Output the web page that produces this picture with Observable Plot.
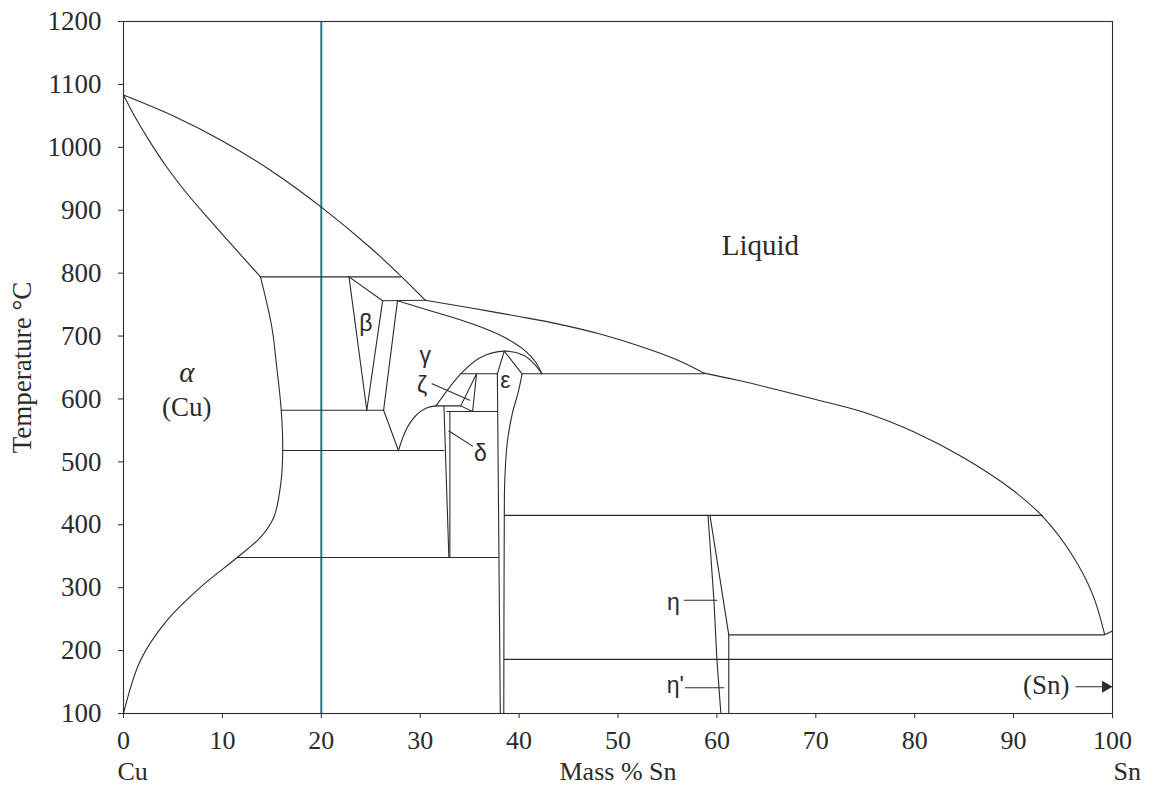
<!DOCTYPE html>
<html>
<head>
<meta charset="utf-8">
<script src="https://cdn.jsdelivr.net/npm/d3@7"></script>
<script src="https://cdn.jsdelivr.net/npm/@observablehq/plot@0.6"></script>
<style>
  html, body { margin: 0; padding: 0; background: #fff; }
</style>
</head>
<body>
<div id="chart"></div>
<script>
// Cu–Sn equilibrium phase diagram: composition (mass % Sn) vs temperature (°C)

const xTicks = [0, 10, 20, 30, 40, 50, 60, 70, 80, 90, 100];
const yTicks = [100, 200, 300, 400, 500, 600, 700, 800, 900, 1000, 1100, 1200];

// Curved phase boundaries, [mass % Sn, °C]
const liquidusCu = [[0,1083],[5,1050],[10,1010],[15,962],[20,905],[25,840],[28,796],[30.5,757]];
const solidusAlpha = [[0,1083],[1,1053],[2.5,1013],[4.4,968],[6.5,925],[8.8,883],[13.85,794]];
const solvusAlpha = [[13.85,794],[15.0,714],[15.5,650],[15.95,582],[16.1,518],[15.9,465],[15.2,412],[13.85,380],[11.5,348],[7.8,301],[4.4,248],[1.7,184],[0,100]];
const liquidusMid = [[30.5,757],[35,745],[40,731],[44,719],[48,704],[52,685],[56,662],[58.7,641]];
const liquidusSn = [[58.7,641],[62,630],[66,615],[70,599],[75,578],[80,547],[85,506],[90,454],[93,412],[96,350],[98,289],[99.2,226]];
const gammaSolidus = [[27.7,756],[30,745],[33,731],[36,715],[38.5,698],[40.5,678],[41.7,658],[42.3,640]];
const gammaDome = [[31.6,589],[34.1,640],[36.1,666],[38.5,676],[40.5,669],[41.5,656],[42.3,640]];
const gammaEutectoid = [[27.8,518],[28.7,555],[29.7,576],[30.7,586],[31.6,589]];
const epsilonRight = [[40.3,640],[39.9,610],[39.3,576],[38.8,530],[38.55,470],[38.5,400],[38.45,100]];

// Straight boundaries and invariant lines
const iso798 = [[13.85,794],[28,794]];
const iso755 = [[26.2,756],[30.5,757]];
const iso640a = [[34.1,640],[37.8,640]];
const iso640b = [[40.3,640],[58.7,640]];
const iso590 = [[31.6,589],[34.1,589]];
const iso586 = [[15.95,582],[26.3,582]];
const iso580 = [[32.7,580],[37.8,580]];
const iso520 = [[16.1,518],[32.4,518]];
const iso350 = [[11.5,348],[37.9,348]];
const iso415 = [[38.5,415],[92.9,415]];
const iso227 = [[61.2,225],[99.2,225],[100,231]];
const iso186 = [[38.5,186],[100,186]];
const betaLeft = [[22.8,794],[24.6,582]];
const betaTop = [[22.8,794],[26.2,756]];
const betaRight = [[26.2,756],[24.6,582]];
const gammaLeft = [[27.7,756],[26.3,582],[27.8,518]];
const zeta = [[34.1,589],[35.7,640],[35.3,580],[34.1,589]];
const deltaLeft = [[32.4,589],[32.9,348]];
const deltaRight = [[33.0,580],[33.0,348]];
const epsilonLeft = [[37.8,640],[38.1,100]];
const epsilonPeak = [[37.8,640],[38.5,676],[40.3,640]];
const etaLeft = [[59.1,415],[59.7,280],[60.0,186],[60.4,100]];
const etaRight = [[59.3,415],[61.2,225],[61.2,100]];

// Leader lines from phase labels
const zetaLeader = [[31.2,624],[35.0,598]];
const deltaLeader = [[32.9,549],[35.3,525]];
const etaLeader = [[56.7,280],[60.0,280]];
const etaPrimeLeader = [[56.8,141],[60.7,141]];
const snArrow = [[96.3,142.5],[99.0,142.5]];
const snArrowHead = [[99.3,142.5]];

// Reference composition
const markerComposition = [20];

// Phase-field labels
const liquidLabel = [{text: "Liquid", x: 64.4, t: 844}];
const serifLabels = [
  {text: "(Cu)", x: 6.4, t: 587},
  {text: "(Sn)", x: 93.3, t: 144}
];
const italicLabels = [{text: "α", x: 6.4, t: 642}];
const greekLabels = [
  {text: "β", x: 24.5, t: 719},
  {text: "γ", x: 30.5, t: 669},
  {text: "ζ", x: 30.2, t: 621},
  {text: "ε", x: 38.6, t: 629},
  {text: "δ", x: 36.1, t: 513},
  {text: "η", x: 55.6, t: 277},
  {text: "η'", x: 55.8, t: 144}
];

const toRows = (groups) => groups.flatMap(([id, pts]) => pts.map(([x, t], i) => ({id, i, x, t})));

const curved = toRows([
  ["liquidusCu", liquidusCu], ["solidusAlpha", solidusAlpha], ["solvusAlpha", solvusAlpha],
  ["liquidusMid", liquidusMid], ["liquidusSn", liquidusSn], ["gammaSolidus", gammaSolidus],
  ["gammaDome", gammaDome], ["gammaEutectoid", gammaEutectoid], ["epsilonRight", epsilonRight]
]);

const straight = toRows([
  ["iso798", iso798], ["iso755", iso755], ["iso640a", iso640a], ["iso640b", iso640b],
  ["iso590", iso590], ["iso586", iso586], ["iso580", iso580], ["iso520", iso520],
  ["iso350", iso350], ["iso415", iso415], ["iso227", iso227], ["iso186", iso186],
  ["betaLeft", betaLeft], ["betaTop", betaTop], ["betaRight", betaRight], ["gammaLeft", gammaLeft],
  ["zeta", zeta], ["deltaLeft", deltaLeft], ["deltaRight", deltaRight], ["epsilonLeft", epsilonLeft],
  ["epsilonPeak", epsilonPeak], ["etaLeft", etaLeft], ["etaRight", etaRight],
  ["zetaLeader", zetaLeader], ["deltaLeader", deltaLeader], ["etaLeader", etaLeader],
  ["etaPrimeLeader", etaPrimeLeader], ["snArrow", snArrow]
]);

const ink = "#2b2b2b";
const serif = "'Liberation Serif', 'Times New Roman', serif";
const sans = "'Liberation Sans', Arial, sans-serif";

const chart = Plot.plot({
  width: 1156,
  height: 791,
  marginLeft: 123,
  marginRight: 44,
  marginTop: 21,
  marginBottom: 78,
  style: {fontFamily: serif, fontSize: "26px", background: "#fff", color: ink},
  x: {domain: [0, 100]},
  y: {domain: [100, 1200]},
  marks: [
    Plot.ruleX(markerComposition, {stroke: "#1b7c84", strokeWidth: 2}),
    Plot.line(curved, {x: "x", y: "t", z: "id", curve: "catmull-rom", stroke: ink, strokeWidth: 1.1}),
    Plot.line(straight, {x: "x", y: "t", z: "id", stroke: ink, strokeWidth: 1.1}),
    Plot.dot(snArrowHead, {x: d => d[0], y: d => d[1], symbol: "triangle", rotate: 90, r: 4.5, fill: ink, stroke: "none"}),
    Plot.text(liquidLabel, {x: "x", y: "t", text: "text", fontFamily: serif, fontSize: 29, fill: ink}),
    Plot.text(serifLabels, {x: "x", y: "t", text: "text", fontFamily: serif, fontSize: 27, fill: ink}),
    Plot.text(italicLabels, {x: "x", y: "t", text: "text", fontFamily: serif, fontStyle: "italic", fontSize: 29, fill: ink}),
    Plot.text(greekLabels, {x: "x", y: "t", text: "text", fontFamily: sans, fontSize: 23, fill: ink}),
    Plot.frame({stroke: ink, strokeWidth: 1.1}),
    Plot.axisX({ticks: xTicks, tickSize: 5, tickPadding: 12, tickFormat: d => String(d), label: null, fontSize: 26, stroke: ink, fill: ink}),
    Plot.axisY({ticks: yTicks, tickSize: 5, tickPadding: 17, tickFormat: d => String(d), label: null, fontSize: 27, stroke: ink, fill: ink}),
    Plot.text(["Temperature °C"], {frameAnchor: "left", textAnchor: "middle", rotate: -90, dx: -101, fontSize: 27, fill: ink}),
    Plot.text(["Mass % Sn"], {frameAnchor: "bottom", textAnchor: "middle", dy: 66, fontSize: 26, fill: ink}),
    Plot.text(["Cu"], {frameAnchor: "bottom-left", textAnchor: "start", dx: -6, dy: 66, fontSize: 26, fill: ink}),
    Plot.text(["Sn"], {frameAnchor: "bottom-right", textAnchor: "start", dx: 1, dy: 66, fontSize: 26, fill: ink})
  ]
});

document.getElementById("chart").append(chart);
</script>
</body>
</html>
